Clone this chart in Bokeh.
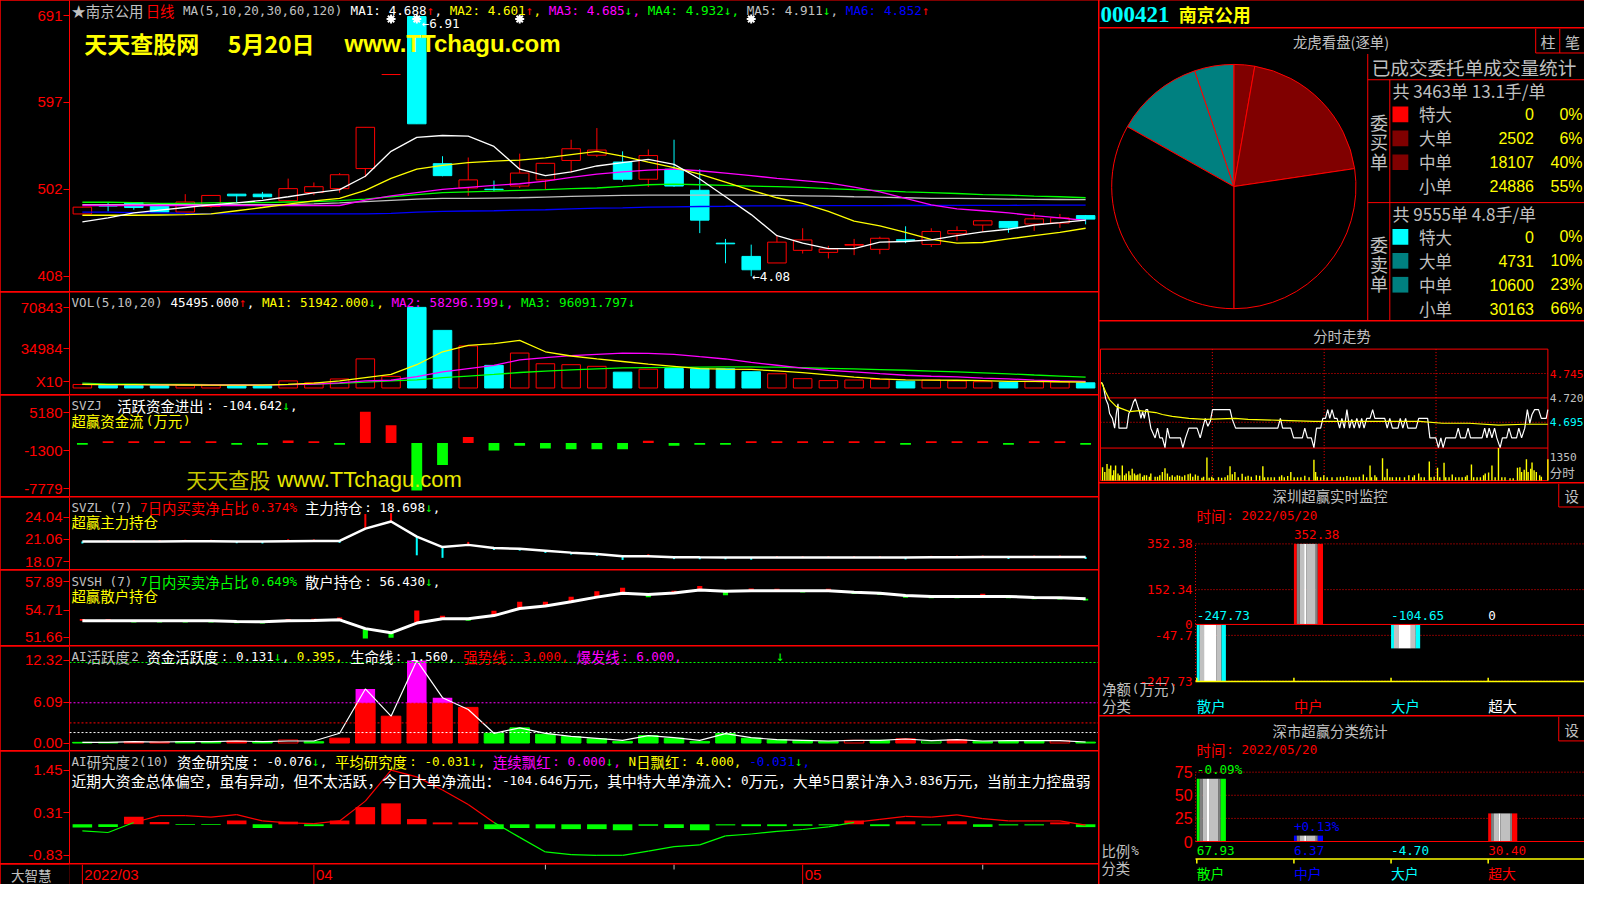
import math
from bokeh.plotting import figure
from bokeh.models import Range1d, FixedTicker, Label, ColumnDataSource, Span
from bokeh.layouts import row, column
from bokeh.embed import file_html
from bokeh.resources import INLINE

# ======================= DATA =======================
idx = list(range(40))
opens = [4.756,4.850,4.879,4.848,4.777,4.837,4.971,4.971,4.900,4.989,5.031,5.249,6.27,6.90,5.302,5.038,5.025,5.059,5.126,5.337,
         5.394,5.320,5.133,5.242,5.013,4.439,4.295,4.224,4.361,4.339,4.417,4.372,4.475,4.425,4.541,4.636,4.675,4.647,4.657,4.738]
highs = [4.830,4.879,4.879,4.848,4.971,4.957,4.971,4.995,5.140,5.098,5.200,5.697,6.27,6.91,5.383,5.369,5.119,5.411,5.306,5.562,
         5.689,5.436,5.457,5.562,5.242,4.485,4.423,4.518,4.601,4.410,4.485,4.509,4.622,4.601,4.622,4.682,4.675,4.770,4.756,4.745]
lows = [4.756,4.784,4.802,4.777,4.777,4.823,4.872,4.918,4.900,4.960,4.986,5.154,6.27,5.735,5.165,4.953,5.002,5.038,5.024,5.207,
        5.373,5.109,5.049,5.049,4.548,4.221,4.080,4.224,4.326,4.273,4.309,4.319,4.439,4.397,4.467,4.562,4.552,4.573,4.605,4.643]
closes = [4.830,4.842,4.826,4.777,4.886,4.957,4.953,4.943,5.031,5.052,5.182,5.697,6.27,5.735,5.172,5.126,5.020,5.200,5.306,5.464,
          5.450,5.133,5.390,5.059,4.689,4.432,4.150,4.450,4.474,4.375,4.424,4.492,4.470,4.566,4.576,4.682,4.605,4.703,4.714,4.700]
ma5 = [4.671,4.714,4.767,4.798,4.826,4.855,4.876,4.904,4.943,4.985,5.020,5.165,5.436,5.587,5.608,5.601,5.489,5.242,5.172,5.214,
       5.277,5.313,5.348,5.295,5.136,4.943,4.749,4.520,4.439,4.379,4.379,4.450,4.457,4.474,4.520,4.562,4.590,4.636,4.661,4.688]
ma10 = [4.742,4.742,4.742,4.745,4.749,4.756,4.791,4.826,4.862,4.897,4.925,5.013,5.143,5.242,5.284,5.313,5.330,5.341,5.365,5.401,
        5.436,5.383,5.320,5.260,5.189,5.101,5.013,4.932,4.872,4.784,4.678,4.626,4.555,4.481,4.439,4.446,4.485,4.520,4.555,4.601]
ma20 = [4.848,4.848,4.848,4.848,4.848,4.848,4.848,4.848,4.848,4.848,4.848,4.907,4.953,4.988,5.024,5.045,5.066,5.084,5.112,5.154,
        5.189,5.214,5.232,5.242,5.225,5.200,5.172,5.143,5.119,5.094,5.048,4.996,4.925,4.855,4.812,4.791,4.767,4.738,4.714,4.685]
ma30 = [4.883,4.883,4.879,4.872,4.872,4.876,4.879,4.879,4.886,4.890,4.900,4.918,4.943,4.967,4.988,4.996,5.003,5.013,5.020,5.031,
        5.038,5.055,5.073,5.080,5.073,5.066,5.059,5.052,5.045,5.031,5.020,5.010,4.996,4.988,4.978,4.967,4.960,4.950,4.943,4.932]
ma60 = [4.858,4.858,4.858,4.858,4.858,4.858,4.858,4.858,4.858,4.865,4.876,4.890,4.904,4.918,4.925,4.925,4.929,4.932,4.939,4.946,
        4.953,4.957,4.960,4.960,4.960,4.960,4.960,4.957,4.953,4.950,4.943,4.939,4.932,4.925,4.925,4.922,4.918,4.915,4.913,4.911]
ma120 = [4.777,4.777,4.770,4.767,4.763,4.760,4.756,4.756,4.756,4.756,4.756,4.756,4.763,4.777,4.784,4.788,4.791,4.798,4.802,4.812,
         4.819,4.823,4.830,4.834,4.837,4.840,4.844,4.844,4.845,4.846,4.846,4.847,4.848,4.848,4.849,4.850,4.850,4.851,4.851,4.852]
price_ticks = [4.08, 5.0233, 5.9667, 6.91]
price_tick_labels = ["408", "502", "597", "691"]
star_idx = [12, 13, 17, 26]

vol = [3100,2530,2245,2245,2530,2530,2530,2245,6230,4530,7940,25590,10220,70843,50630,36970,19890,30710,21320,20470,
       19050,13920,16480,17050,16900,16900,14300,12500,8200,6500,7000,7500,6000,7000,6200,5500,5000,5500,5400,4550]
vol_ma5 = [3100,3000,2900,2800,2650,2500,2500,2500,3100,4240,6230,9070,11920,20450,31830,37520,38940,41780,31830,28130,
           25570,23290,21010,19020,17000,16500,16300,15000,13500,11500,9600,8100,7100,6900,6800,6400,5900,5800,5500,5194]
vol_ma10 = [3100,3000,2900,2850,2800,2700,2650,2600,3000,3400,4500,6230,6800,9920,14190,17040,19890,24730,26720,28430,
            29570,30710,30430,29570,27500,25500,22500,20000,17500,15500,14200,12600,11200,10300,9700,8700,8000,7000,6300,5830]
vol_ma20 = [4240,3400,3300,3200,3100,3000,3000,3000,3100,3400,4000,5100,6230,7090,9070,10490,11920,13620,14760,15900,
            16750,17610,17890,18180,18400,18600,18500,18300,17800,17300,16800,16200,15600,14900,14100,13300,12400,11400,10500,9609]
vol_ticks = [5379, 34984, 70843]
vol_tick_labels = ["X10", "34984", "70843"]

svzj = [-300,300,300,300,300,300,-300,-300,450,300,-300,5350,3030,-8060,-3750,1050,-1270,-440,-940,-1050,
        -1050,-1050,400,-440,-300,-300,300,300,300,300,300,300,-300,300,300,300,-300,300,300,-300]
svzj_ticks = [-7779, -1300, 5180]

svzl = [20.77,20.78,20.80,20.80,20.83,20.83,20.80,20.78,20.83,20.86,20.86,22.51,23.47,21.43,20.03,20.33,19.90,19.81,19.55,19.29,
        19.11,18.81,18.81,18.68,18.66,18.65,18.64,18.63,18.62,18.62,18.62,18.63,18.64,18.66,18.68,18.70,18.70,18.70,18.70,18.698]
svzl_mark = [-0.26,0.2,0.2,0.2,0.2,0.2,-0.26,-0.26,0.26,0.2,-0.26,1.96,1.13,-2.5,-1.44,0.4,-0.26,-0.26,-0.3,-0.26,
             -0.26,-0.5,0.26,-0.26,-0.26,-0.26,-0.3,0.2,0.2,0.2,0.2,0.2,-0.26,0.2,0.2,0.2,-0.26,0.2,0.2,-0.26]
svzl_ticks = [18.07, 21.06, 24.04]

svsh = [53.51,53.51,53.51,53.51,53.51,53.51,53.44,53.40,53.51,53.55,53.62,52.64,52.17,53.26,53.73,53.73,54.09,54.88,55.17,55.64,
        56.15,56.58,56.44,56.62,56.94,56.80,56.87,56.87,56.87,56.87,56.69,56.58,56.33,56.22,56.22,56.22,56.22,56.11,56.08,55.97]
svsh_mark = [0.2,0.2,-0.2,-0.2,-0.2,-0.2,-0.2,-0.2,0.2,0.2,0.25,-1.1,-0.55,1.4,0.35,-0.2,0.55,0.75,0.45,0.55,
             0.65,0.6,-0.3,0.25,0.45,-0.45,0.25,0.2,-0.2,0.2,-0.2,-0.2,-0.25,-0.2,-0.2,0.3,-0.2,-0.2,-0.2,-0.2]
svsh_ticks = [51.66, 54.71, 57.89]

ai_act = [0.1,0.1,0.2,0.15,0.2,0.2,0.3,0.15,0.45,0.2,0.72,8.06,4.0,12.32,6.76,5.31,1.45,2.26,1.30,0.96,
          0.63,0.24,1.11,0.72,0.24,1.40,0.72,0.48,0.39,0.24,0.40,0.39,0.63,0.30,0.48,0.24,0.34,0.34,0.34,0.131]
ai_style = ["g","g","r","r","g","g","r","g","h","g","r","r","r","r","r","r","g","g","g","g",
            "g","g","g","g","g","g","g","g","g","g","h","g","r","k","r","g","g","g","h","g"]
ai_line = [0.1,0.1,0.2,0.15,0.2,0.2,0.3,0.2,0.3,0.3,1.45,8.06,4.0,12.32,6.76,5.0,1.45,2.26,1.45,1.0,
           0.7,0.4,1.1,0.8,0.4,1.4,0.8,0.5,0.4,0.3,0.4,0.4,0.6,0.35,0.5,0.3,0.35,0.35,0.35,0.15]
ai_levels = [12.0, 6.0, 3.0, 1.56]
ai_level_colors = ["#00ff00", "#ff00ff", "#ff0000", "#ffffff"]
ai_ticks = [0, 6.09, 12.32]
ai_tick_labels = ["0.00", "6.09", "12.32"]

res_bar = [-0.085,-0.07,0.2,0.06,-0.02,-0.02,0.1,-0.1,0.07,-0.05,0.1,0.46,0.56,0.14,0.05,0.05,-0.13,-0.1,-0.11,-0.13,
           -0.13,-0.16,-0.04,-0.1,-0.16,-0.03,-0.05,-0.05,-0.04,-0.03,0.1,-0.05,0.08,-0.03,0.08,-0.07,-0.03,-0.03,0.05,-0.076]
res_line = [-0.174,-0.22,0.047,0.23,0.23,0.19,0.26,0.09,0.04,0.02,0.09,0.62,1.45,1.27,0.92,0.53,0.05,-0.35,-0.74,-0.81,
            -0.83,-0.83,-0.72,-0.60,-0.55,-0.31,-0.26,-0.19,-0.14,-0.07,0.05,0.13,0.21,0.19,0.25,0.15,0.09,0.09,0.09,-0.024]
res_ticks = [-0.83, 0.31, 1.45]

date_idx = [0, 9, 28]
date_labels = ["2022/03", "04", "05"]
week_idx = [18, 23, 35]

buy_names = ["特大", "大单", "中单", "小单"]
buy_vals = [0, 2502, 18107, 24886]
buy_pct = ["0%", "6%", "40%", "55%"]
buy_colors = ["#ff0000", "#800000", "#800000", "black"]
sell_vals = [0, 4731, 10600, 30163]
sell_pct = ["0%", "10%", "23%", "66%"]
sell_colors = ["#00ffff", "#008080", "#008080", "black"]
buy_head = "共 3463单 13.1手/单"
sell_head = "共 9555单 4.8手/单"

fs_pts = [(0.5,4.736),(1.4,4.733),(2.8,4.719),(4.1,4.713),(4.9,4.704),(6.4,4.699),(7.6,4.689),(8.5,4.704),(9.4,4.714),(9.9,4.689),
          (14.1,4.689),(15.2,4.704),(16.4,4.708),(17.7,4.716),(18.7,4.719),(20.0,4.711),(20.9,4.706),(21.7,4.699),(22.6,4.706),(23.5,4.699),
          (24.4,4.708),(25.3,4.708),(26.2,4.698),(27.0,4.689),(29.3,4.679),(30.6,4.689),(31.8,4.679),(33.2,4.679),(34.6,4.669),(35.9,4.689),
          (37.1,4.679),(42.9,4.679),(44.2,4.669),(45.6,4.679),(47.4,4.689),(51.8,4.689),(53.5,4.679),(54.8,4.689),(56.2,4.699),(57.6,4.691),
          (58.9,4.696),(60.1,4.708),(69.5,4.708),(70.7,4.698),(72.5,4.689),(95.1,4.689),(96.5,4.699),(97.7,4.689),(102.1,4.689),(103.6,4.679),
          (108.3,4.679),(109.6,4.689),(111.0,4.679),(113.1,4.679),(114.5,4.669),(115.9,4.689),(118.1,4.689),(119.3,4.699),(120.7,4.699),(121.9,4.708),
          (123.0,4.699),(124.2,4.708),(125.5,4.699),(126.9,4.699),(128.3,4.689),(129.5,4.699),(130.8,4.689),(132.2,4.708),(133.6,4.689),(134.8,4.698),
          (136.1,4.689),(137.5,4.699),(138.9,4.689),(140.1,4.699),(141.4,4.689),(142.8,4.699),(144.6,4.699),(146.0,4.708),(147.2,4.699),(152.5,4.699),
          (153.8,4.689),(155.2,4.699),(156.6,4.689),(159.6,4.689),(160.8,4.699),(162.2,4.689),(163.7,4.699),(164.9,4.689),(169.3,4.689),(170.7,4.699),
          (175.5,4.699),(176.7,4.679),(179.9,4.679),(181.3,4.669),(182.6,4.679),(183.8,4.669),(185.2,4.679),(190.5,4.679),(191.9,4.689),(193.2,4.679),
          (195.8,4.679),(197.2,4.689),(198.5,4.679),(204.7,4.679),(206.1,4.689),(207.3,4.679),(208.5,4.689),(210.0,4.679),(211.4,4.689),(212.6,4.679),
          (214.4,4.669),(215.6,4.679),(217.9,4.679),(219.1,4.689),(220.6,4.679),(223.2,4.679),(224.4,4.689),(225.9,4.679),(227.6,4.689),(229.0,4.708),
          (230.3,4.694),(231.5,4.703),(232.9,4.708),(235.0,4.708),(236.5,4.699),(239.1,4.699),(240.0,4.708)]
fs_avg_pts = [(0.5,4.736),(2.8,4.726),(4.9,4.718),(8.5,4.711),(15.6,4.706),(20.9,4.707),(29.7,4.705),(33.2,4.703),(38.5,4.701),
              (47.4,4.699),(56.2,4.698),(72.1,4.699),(79.2,4.698),(96.8,4.697),(114.5,4.696),(171.1,4.696),(183.4,4.694),
              (197.6,4.694),(213.5,4.692),(227.6,4.693),(240.0,4.693)]
fs_vol_pts = [(1.1,556),(2.3,357),(3.5,688),(4.6,490),(5.5,622),(6.4,225),(7.1,424),(8.1,622),(9.4,291),(10.3,225),(11.7,622),(12.9,225),
              (13.8,291),(15.2,384),(15.9,225),(17.0,490),(18.2,291),(19.1,225),(20.0,252),(21.2,291),(22.6,159),(23.5,225),(24.7,225),
              (26.2,159),(27.0,291),(29.3,159),(30.6,159),(31.8,225),(33.2,357),(34.6,516),(35.9,291),(37.1,159),(38.5,225),(39.9,159),
              (41.2,225),(42.4,199),(43.8,159),(45.2,225),(47.0,265),(48.2,291),(49.5,159),(50.9,252),(52.3,199),(54.4,119),(55.3,159),
              (57.1,953),(58.3,119),(59.7,159),(60.6,93),(63.3,132),(65.0,119),(66.8,132),(68.2,225),(69.5,596),(70.7,265),(72.1,357),
              (73.9,132),(76.0,278),(77.8,159),(79.2,199),(80.9,159),(83.6,225),(85.4,199),(87.1,596),(88.0,132),(89.8,132),(91.5,132),
              (93.3,132),(96.0,159),(97.2,225),(98.6,132),(100.4,185),(102.1,357),(103.9,132),(105.7,132),(107.5,132),(109.6,199),
              (111.9,132),(114.5,860),(115.4,357),(116.3,159),(118.1,132),(119.8,225),(121.6,132),(124.2,132),(126.9,132),(128.7,159),
              (130.4,132),(132.2,185),(134.0,132),(135.7,132),(137.1,132),(138.9,159),(141.0,252),(142.8,132),(144.6,622),(145.4,132),
              (147.2,225),(148.1,132),(151.3,927),(152.5,132),(153.8,490),(155.2,132),(156.6,132),(158.7,132),(160.5,132),(163.1,132),
              (165.4,225),(167.5,132),(168.4,225),(170.7,291),(172.0,132),(173.7,132),(176.4,794),(177.3,132),(179.0,159),(180.8,530),
              (182.0,132),(184.3,741),(185.2,132),(187.0,132),(188.7,252),(190.5,132),(192.3,132),(194.0,132),(195.8,159),(196.7,225),
              (199.0,662),(200.2,132),(202.0,132),(203.8,132),(205.5,225),(206.4,291),(208.2,331),(210.0,622),(211.7,132),(213.5,1350),
              (215.3,132),(217.0,132),(219.7,93),(221.4,93),(223.7,530),(225.0,556),(225.9,357),(227.3,450),(228.5,887),(229.4,357),
              (230.8,490),(231.5,755),(232.6,424),(233.8,357),(235.6,225),(236.5,159),(240.0,887)]
fs_prev_close = 4.720
fs_levels = [4.745, 4.720, 4.695]
fs_level_labels = ["4.745", "4.720", "4.695"]
fs_vol_max = 1350
fs_hours = [60, 120, 180]

cats = ["散户", "中户", "大户", "超大"]
sz_vals = [-247.73, 352.38, -104.65, 0]
sz_val_labels = ["-247.73", "352.38", "-104.65", "0"]
sz_colors = ["#00ffff", "#ff0000", "#00ffff", "#ffffff"]
sz_ticks = [352.38, 152.34, 0, -47.7, -247.73]
sz_tick_labels = ["352.38", "152.34", "0", "-47.7", "-247.73"]
ss_vals = [67.93, 6.37, -4.70, 30.40]
ss_val_labels = ["67.93", "6.37", "-4.70", "30.40"]
ss_chg = ["-0.09%", "+0.13%", "", ""]
ss_colors = ["#00ff00", "#0000ff", "#00ffff", "#ff0000"]
ss_ticks = [75, 50, 25, 0]

# ======================= STYLE / LAYOUT =======================
MONO = "DejaVu Sans Mono"; CJKF = "Noto Sans CJK SC"; SANS = "Liberation Sans"; SERIF = "Liberation Serif"
GRAY = "#c0c0c0"; WHITE = "#ffffff"; YEL = "#ffff00"; RED = "#ff0000"; MAG = "#ff00ff"
GRN = "#00ff00"; BLU = "#0000ff"; CYAN = "#00ffff"
ASC_ADV, CJK_ADV = 7.7, 15.0
A_SZ, C_SZ = 12.6, 14.4

LW, RW, AXW = 1098, 485, 69
LH = [291, 102, 101, 72, 75, 104, 112, 20]
RH = [27, 292, 161, 232, 168]
LY = [0, 299, 404, 508, 582, 659, 766, 880, 900]
RY = [0, 28, 326, 491, 728, 900]


def mkfig(w, h, xr, yr, pxx, pxy, left=0, axis=False):
    p = figure(width=w, height=h, x_range=xr, y_range=yr, output_backend="svg", toolbar_location=None,
               title=None, x_axis_location=None, y_axis_location=("left" if axis else None),
               min_border_left=left, min_border_right=0, min_border_top=0, min_border_bottom=0,
               background_fill_color="black", border_fill_color="black", outline_line_color=None)
    p.extra_x_ranges = {"px": Range1d(*pxx)}
    p.extra_y_ranges = {"px": Range1d(*pxy)}
    p.grid.visible = False
    return p


def style_axis(p, ticks, labels=None):
    ax = p.yaxis[0]
    ax.ticker = FixedTicker(ticks=ticks)
    if labels:
        ax.major_label_overrides = {t: l for t, l in zip(ticks, labels)}
    ax.axis_line_color = RED
    ax.major_tick_line_color = RED
    ax.major_tick_out = 6
    ax.major_tick_in = 0
    ax.minor_tick_line_color = None
    ax.major_label_text_color = RED
    ax.major_label_text_font = SANS
    ax.major_label_text_font_size = "15px"
    ax.major_label_standoff = 1


def lab(p, x, y, t, col, size, font=MONO, align="left", base="middle", style="normal",
        xr="px", yr="px", xo=0, yo=0, **kw):
    p.add_layout(Label(x=x, y=y, x_range_name=xr, y_range_name=yr, text=t, text_color=col,
                       text_font_size=f"{size}px", text_font=font, text_align=align,
                       text_baseline=base, text_font_style=style, x_offset=xo, y_offset=yo, **kw))


def half(ch):
    return ord(ch) < 128 or ch in "↑↓←"


def segtext(p, x, y, segs, asz=A_SZ, csz=C_SZ):
    for txt, col in segs:
        runs = []
        for ch in txt:
            k = "s" if ch == " " else ("a" if half(ch) else "c")
            if runs and runs[-1][0] == k:
                runs[-1][1] += ch
            else:
                runs.append([k, ch])
        for k, r in runs:
            if k == "s":
                x += ASC_ADV * len(r)
            elif k == "a":
                lab(p, x, y, r, col, asz, MONO)
                x += ASC_ADV * len(r)
            else:
                lab(p, x, y, r, col, csz, CJKF)
                x += CJK_ADV * len(r)
    return x


XR = Range1d(-0.5, 39.5)
up = [c >= o for o, c in zip(opens, closes)]

# ---------------- price panel ----------------
p1 = mkfig(LW, LH[0], XR, Range1d(3.9141, 7.0738), (70, 1110), (LY[1], LY[0]), AXW, True)
style_axis(p1, price_ticks, price_tick_labels)
csrc = ColumnDataSource(dict(x=idx, l=lows, h=highs,
                             bt=[min(a, b) for a, b in zip(opens, closes)],
                             tp=[max(a, b) for a, b in zip(opens, closes)],
                             col=[RED if u else CYAN for u in up],
                             fill=["black" if u else CYAN for u in up]))
p1.segment(x0="x", y0="l", x1="x", y1="h", line_color="col", line_width=1, source=csrc)
p1.vbar(x="x", bottom="bt", top="tp", width=0.72, fill_color="fill", line_color="col", line_width=1, source=csrc)
for ser, col in [(ma120, BLU), (ma60, GRAY), (ma30, GRN), (ma20, MAG), (ma10, YEL), (ma5, WHITE)]:
    p1.line(idx, ser, line_color=col, line_width=1.3)
p1.scatter(x=star_idx, y=19, y_range_name="px", marker="asterisk", size=9, line_color=WHITE, line_width=2)
p1.scatter(x=star_idx, y=19, y_range_name="px", marker="circle", size=4, fill_color=WHITE, line_color=WHITE)
lab(p1, 13, highs[13], "←6.91", WHITE, A_SZ, MONO, xr="default", yr="default", xo=5, yo=-8)
lab(p1, 26, lows[26], "←4.08", WHITE, A_SZ, MONO, xr="default", yr="default", xo=1, yo=0)
segtext(p1, 72, 10.5, [("★南京公用", GRAY), ("日线", RED), (" MA(5,10,20,30,60,120) ", GRAY),
                       ("MA1: 4.688", WHITE), ("↑", RED), (", ", WHITE), ("MA2: 4.601", YEL), ("↑", RED), (", ", YEL),
                       ("MA3: 4.685", MAG), ("↓", GRN), (", ", MAG), ("MA4: 4.932", GRN), ("↓", GRN), (", ", GRN),
                       ("MA5: 4.911", GRAY), ("↓", GRN), (", ", GRAY), ("MA6: 4.852", BLU), ("↑", RED)])
lab(p1, 85, 44, "天天查股网", YEL, 23, CJKF, style="bold")
lab(p1, 230, 44, "5月20日", YEL, 23, CJKF, style="bold")
lab(p1, 348, 44, "www.TTchagu.com", YEL, 24, SANS, style="bold")

# ---------------- volume panel ----------------
p2 = mkfig(LW, LH[1], XR, Range1d(-5720, 83929), (70, 1110), (LY[2], LY[1]), AXW, True)
style_axis(p2, vol_ticks, vol_tick_labels)
vsrc = ColumnDataSource(dict(x=idx, v=vol, col=[RED if u else CYAN for u in up],
                             fill=["black" if u else CYAN for u in up]))
p2.vbar(x="x", bottom=0, top="v", width=0.72, fill_color="fill", line_color="col", line_width=1, source=vsrc)
for ser, col in [(vol_ma20, GRN), (vol_ma10, MAG), (vol_ma5, YEL)]:
    p2.line(idx, ser, line_color=col, line_width=1.3)
segtext(p2, 72, 309.5, [("VOL(5,10,20) ", GRAY), ("45495.000", WHITE), ("↑", RED), (", ", WHITE),
                        ("MA1: 51942.000", YEL), ("↓", GRN), (", ", YEL), ("MA2: 58296.199", MAG), ("↓", GRN),
                        (", ", MAG), ("MA3: 96091.797", GRN), ("↓", GRN)])

# ---------------- SVZJ panel ----------------
p3 = mkfig(LW, LH[2], XR, Range1d(-9103, 8110), (70, 1110), (LY[3], LY[2]), AXW, True)
style_axis(p3, svzj_ticks, [str(t) for t in svzj_ticks])
p3.vbar(x=idx, bottom=0, top=svzj, width=0.42, fill_color=[RED if v > 0 else GRN for v in svzj], line_color=None)
segtext(p3, 72, 414.5, [("SVZJ  ", GRAY), ("活跃资金进出: -104.642", WHITE), ("↓", GRN), (",", WHITE)])
segtext(p3, 72, 430, [("超赢资金流(万元)", YEL)])
lab(p3, 188, 490, "天天查股", "#c8c800", 21, CJKF)
lab(p3, 280, 490, "www.TTchagu.com", "#e8e800", 22, SANS)

# ---------------- SVZL panel ----------------
p4 = mkfig(LW, LH[3], XR, Range1d(17.025, 26.69), (70, 1110), (LY[4], LY[3]), AXW, True)
style_axis(p4, svzl_ticks, ["18.07", "21.06", "24.04"])
p4.segment(x0=idx, y0=svzl, x1=idx, y1=[a + b for a, b in zip(svzl, svzl_mark)],
           line_color=[RED if m > 0 else CYAN for m in svzl_mark], line_width=2)
p4.line(idx, svzl, line_color=WHITE, line_width=2.5)
segtext(p4, 72, 518.5, [("SVZL (7) ", GRAY), ("7日内买卖净占比0.374%", RED), (" 主力持仓: 18.698", WHITE),
                        ("↓", GRN), (",", WHITE)])
segtext(p4, 72, 533, [("超赢主力持仓", YEL)])

# ---------------- SVSH panel ----------------
p5 = mkfig(LW, LH[4], XR, Range1d(50.759, 59.116), (70, 1110), (LY[5], LY[4]), AXW, True)
style_axis(p5, svsh_ticks, ["51.66", "54.71", "57.89"])
p5.vbar(x=idx, bottom=svsh, top=[a + b for a, b in zip(svsh, svsh_mark)], width=0.2,
        fill_color=[RED if m > 0 else GRN for m in svsh_mark], line_color=None)
p5.line(idx, svsh, line_color=WHITE, line_width=3)
segtext(p5, 72, 593, [("SVSH (7) ", GRAY), ("7日内买卖净占比0.649%", GRN), (" 散户持仓: 56.430", WHITE),
                      ("↓", GRN), (",", WHITE)])
segtext(p5, 72, 607.5, [("超赢散户持仓", YEL)])

# ---------------- AI活跃度 panel ----------------
p6 = mkfig(LW, LH[5], XR, Range1d(-1.116, 14.39), (70, 1110), (LY[6], LY[5]), AXW, True)
style_axis(p6, ai_ticks, ai_tick_labels)
for lv, lc in zip(ai_levels, ai_level_colors):
    p6.add_layout(Span(location=lv, dimension="width", line_color=lc, line_dash="2 2", line_width=1))
fillc = {"g": GRN, "r": RED, "h": "black", "k": "black"}
linec = {"g": GRN, "r": RED, "h": RED, "k": GRN}
p6.vbar(x=idx, bottom=0, top=[min(v, 6.0) for v in ai_act], width=0.76,
        fill_color=[fillc[s] for s in ai_style], line_color=[linec[s] for s in ai_style])
hi = [i for i in idx if ai_act[i] > 6.0]
p6.vbar(x=hi, bottom=6.0, top=[ai_act[i] for i in hi], width=0.76, fill_color=MAG, line_color=None)
p6.line(idx, ai_line, line_color=WHITE, line_width=1.2)
segtext(p6, 72, 669.5, [("AI活跃度2 ", GRAY), ("资金活跃度: 0.131", WHITE), ("↓", GRN), (", ", WHITE),
                        ("0.395", YEL), (", ", YEL), ("生命线: 1.560, ", WHITE), ("强势线: 3.000, ", RED),
                        ("爆发线: 6.000,", MAG)])
lab(p6, 788, 669, "↓", GRN, 14, MONO, align="center")

# ---------------- AI研究度 panel ----------------
p7 = mkfig(LW, LH[6], XR, Range1d(-1.050, 1.949), (70, 1110), (LY[7], LY[6]), AXW, True)
style_axis(p7, res_ticks, ["-0.83", "0.31", "1.45"])
p7.vbar(x=idx, bottom=0, top=res_bar, width=0.76, fill_color=[RED if v > 0 else GRN for v in res_bar], line_color=None)
p7.segment(x0=idx[:-1], y0=res_line[:-1], x1=idx[1:], y1=res_line[1:],
           line_color=[RED if (a + b) > 0 else GRN for a, b in zip(res_line[:-1], res_line[1:])], line_width=1.2)
segtext(p7, 72, 776.5, [("AI研究度2(10) ", GRAY), ("资金研究度: -0.076", WHITE), ("↓", GRN), (", ", WHITE),
                        ("平均研究度: -0.031", YEL), ("↓", GRN), (", ", YEL), ("连续飘红: 0.000", MAG), ("↓", GRN),
                        (", ", MAG), ("N日飘红: 4.000, ", YEL), ("-0.031", BLU), ("↓", GRN), (",", BLU)])
segtext(p7, 72, 796, [("近期大资金总体偏空，虽有异动，但不太活跃，今日大单净流出：-104.646万元，其中特大单净流入：0万元，"
                       "大单5日累计净入3.836万元，当前主力控盘弱", WHITE)], csz=14.8)

# ---------------- date bar ----------------
p8 = mkfig(LW, LH[7], XR, Range1d(0, 1), (70, 1110), (LY[8], LY[7]), AXW, True)
ax8 = p8.yaxis[0]
ax8.ticker = FixedTicker(ticks=[0.5])
ax8.major_label_overrides = {0.5: "大智慧"}
ax8.axis_line_color = None
ax8.major_tick_line_color = None
ax8.minor_tick_line_color = None
ax8.major_label_text_color = GRAY
ax8.major_label_text_font = CJKF
ax8.major_label_text_font_size = "13.5px"
ax8.major_label_standoff = 12
p8.segment(x0=date_idx, y0=880, x1=date_idx, y1=900, y_range_name="px", line_color=RED, line_width=1)
p8.segment(x0=week_idx, y0=880, x1=week_idx, y1=885, y_range_name="px", line_color=GRAY, line_width=1)
for d, t in zip(date_idx, date_labels):
    lab(p8, d, 890, t, RED, 15, SANS, xr="default", xo=2)

# ---------------- right: header ----------------
r0 = mkfig(RW, RH[0], Range1d(0, 1), Range1d(0, 1), (1110, 1600), (RY[1], RY[0]))
lab(r0, 1111, 14, "000421", CYAN, 23, SERIF, style="bold")
lab(r0, 1190, 14, "南京公用", YEL, 18, CJKF, style="bold")

# ---------------- right: 龙虎看盘 ----------------
r1 = mkfig(RW, RH[1], Range1d(0, 490), Range1d(0, 298), (1110, 1600), (RY[2], RY[1]))
starts, ends, wcols = [], [], []
tot = sum(buy_vals); acc = 0.0
for v, c in zip(buy_vals, buy_colors):
    a0 = acc; acc += v / tot * math.pi
    if v > 0:
        starts.append(math.pi / 2 - acc); ends.append(math.pi / 2 - a0); wcols.append(c)
tot = sum(sell_vals); acc = 0.0
for v, c in zip(sell_vals, sell_colors):
    a0 = acc; acc += v / tot * math.pi
    if v > 0:
        starts.append(math.pi / 2 + a0); ends.append(math.pi / 2 + acc); wcols.append(c)
r1.wedge(x=135.7, y=136.7, radius=123.4, start_angle=starts, end_angle=ends, fill_color=wcols,
         line_color=RED, line_width=1)
seg_kw = dict(x_range_name="px", y_range_name="px", line_color=RED, line_width=1)
r1.segment(x0=[1381, 1403.3, 1381, 1381, 1550.7, 1575, 1550.7], y0=[54, 80.3, 80.3, 205.7, 28, 28, 53],
           x1=[1381, 1403.3, 1600, 1600, 1550.7, 1575, 1600], y1=[326, 326, 80.3, 205.7, 53, 53, 53], **seg_kw)
lab(r1, 1354, 41.5, "龙虎看盘(逐单)", GRAY, C_SZ, CJKF, align="center")
lab(r1, 1563, 41, "柱", GRAY, 15, CJKF, align="center")
lab(r1, 1588, 41, "笔", GRAY, 15, CJKF, align="center")
lab(r1, 1385, 66.5, "已成交委托单成交量统计", GRAY, 18.6, CJKF)
for i, ch in enumerate("委买单"):
    lab(r1, 1392.5, 123 + 20 * i, ch, GRAY, 18, CJKF, align="center")
for i, ch in enumerate("委卖单"):
    lab(r1, 1392.5, 248 + 20 * i, ch, GRAY, 18, CJKF, align="center")
for head, y0, vals, pcts, cols in [(buy_head, 91.7, buy_vals, buy_pct, buy_colors),
                                   (sell_head, 216.7, sell_vals, sell_pct, sell_colors)]:
    lab(r1, 1406, y0, head, GRAY, 17, CJKF)
    ys = [y0 + 24.0 + 24.4 * k for k in range(4)]
    sq = [k for k in range(4) if cols[k] != "black"]
    r1.rect(x=1414, y=[ys[k] for k in sq], width=16, height=16, x_range_name="px", y_range_name="px",
            fill_color=[cols[k] for k in sq], line_color=None)
    for k in range(4):
        lab(r1, 1432.7, ys[k], buy_names[k], GRAY, 16.5, CJKF)
        lab(r1, 1549, ys[k], str(vals[k]), YEL, 16, SANS, align="right")
        lab(r1, 1598, ys[k], pcts[k], YEL, 16, SANS, align="right")

# ---------------- right: 分时走势 ----------------
r2 = mkfig(RW, RH[2], Range1d(-0.531, 259.65), Range1d(4.6333, 4.7983), (1110, 1600), (RY[3], RY[2]))
r2.extra_y_ranges["vol"] = Range1d(-81, 6608)
r2.segment(x0=[1111, 1111, 1111, 1111, 1563], y0=[354.3, 455.7, 489, 354.3, 354.3],
           x1=[1563, 1563, 1563, 1111, 1563], y1=[354.3, 455.7, 489, 489, 489], **seg_kw)
r2.segment(x0=fs_hours, y0=354.3, x1=fs_hours, y1=489, y_range_name="px", line_color=RED, line_dash="1 2")
r2.segment(x0=0, x1=240, y0=[fs_levels[0], fs_levels[2]], y1=[fs_levels[0], fs_levels[2]],
           line_color=RED, line_dash="1 2")
r2.segment(x0=0, x1=240, y0=fs_prev_close, y1=fs_prev_close, line_color=RED, line_width=1)
vm = [a for a, b in fs_vol_pts]; vv = [b for a, b in fs_vol_pts]
r2.segment(x0=vm, y0=0, x1=vm, y1=vv, y_range_name="vol", line_color=YEL, line_width=1.4)
r2.line([a for a, b in fs_pts], [b for a, b in fs_pts], line_color=WHITE, line_width=1.2)
r2.line([a for a, b in fs_avg_pts], [b for a, b in fs_avg_pts], line_color=YEL, line_width=1.2)
lab(r2, 1355, 340, "分时走势", GRAY, C_SZ, CJKF, align="center")
for lv, lt, lc in zip(fs_levels, fs_level_labels, [RED, GRAY, CYAN]):
    lab(r2, 1565, lv, lt, lc, 11.2, MONO, yr="default")
lab(r2, 1565, 465, str(fs_vol_max), GRAY, 11.2, MONO)
lab(r2, 1565, 480.5, "分时", GRAY, 12.5, CJKF)

# ---------------- right: bar panels ----------------
BW = 0.2996
POS = [(0.0, 0.1, None), (0.1, 0.2, "#808080"), (0.2, 0.35, "#c0c0c0"), (0.35, 0.42, "#ffffff"),
       (0.42, 0.75, "#c0c0c0"), (0.75, 0.82, "#808080"), (0.82, 1.0, None)]
NEG = [(0.0, 0.1, None), (0.1, 0.25, "#c0c0c0"), (0.25, 0.68, "#ffffff"), (0.68, 0.85, "#c0c0c0"), (0.85, 1.0, None)]


def cylinders(p, vals, edges, skip_negative=False):
    for i, (v, e) in enumerate(zip(vals, edges)):
        if v == 0 or (skip_negative and v < 0):
            continue
        for a, b, c in (POS if v > 0 else NEG):
            p.vbar(x=[i - BW / 2 + (a + b) / 2 * BW], width=(b - a) * BW, bottom=0, top=v,
                   fill_color=(c if c else e), line_color=None)


r3 = mkfig(RW, RH[3], Range1d(-1.1515, 3.8418), Range1d(-398.1, 616.4), (1110, 1600), (RY[4], RY[3]))
r4 = mkfig(RW, RH[4], Range1d(-1.1515, 3.8418), Range1d(-46.5, 135.2), (1110, 1600), (RY[5], RY[4]))
lefts = [i - BW / 2 for i in range(4)]

# 深圳超赢实时监控
lab(r3, 1343, 503.5, "深圳超赢实时监控", GRAY, C_SZ, CJKF, align="center")
r3.segment(x0=[1574, 1574], y0=[491, 515], x1=[1574, 1600], y1=[515, 515], **seg_kw)
lab(r3, 1587, 503.5, "设", GRAY, C_SZ, CJKF, align="center")
segtext(r3, 1208, 523.3, [("时间: 2022/05/20", RED)])
for t, tl in zip(sz_ticks, sz_tick_labels):
    lab(r3, 1204, t, tl, RED, A_SZ, MONO, align="right", yr="default")
dots = [t for t in sz_ticks if t != 0]
r3.segment(x0=1207, x1=1600, y0=dots, y1=dots, x_range_name="px", line_color=RED, line_dash="1 2")
r3.segment(x0=1207, x1=1207, y0=min(sz_ticks), y1=max(sz_ticks), x_range_name="px", line_color=RED, line_dash="1 2")
cylinders(r3, sz_vals, sz_colors)
r3.segment(x0=1207, x1=1600, y0=0, y1=0, x_range_name="px", line_color=RED, line_width=1)
r3.segment(x0=1207, x1=1600, y0=693.3, y1=693.3, x_range_name="px", y_range_name="px", line_color=YEL, line_width=1.5)
r3.segment(x0=lefts, x1=lefts, y0=689.5, y1=693.3, y_range_name="px", line_color=YEL, line_width=1.5)
for i in range(4):
    lab(r3, lefts[i], max(sz_vals[i], 0), sz_val_labels[i], sz_colors[i], A_SZ, MONO, xr="default", yr="default", yo=9)
    lab(r3, lefts[i], 717.5, cats[i], sz_colors[i], C_SZ, CJKF, xr="default")
segtext(r3, 1112.7, 700.7, [("净额(万元)", GRAY)])
segtext(r3, 1112.7, 717.5, [("分类", GRAY)])

# 深市超赢分类统计
lab(r4, 1343, 742, "深市超赢分类统计", GRAY, C_SZ, CJKF, align="center")
r4.segment(x0=[1574, 1574], y0=[728, 753], x1=[1574, 1600], y1=[753, 753], **seg_kw)
lab(r4, 1587, 741, "设", GRAY, C_SZ, CJKF, align="center")
segtext(r4, 1208, 761.7, [("时间: 2022/05/20", RED)])
for t in ss_ticks:
    lab(r4, 1204, t, str(t), RED, 16, SANS, align="right", yr="default")
dots = [t for t in ss_ticks if t != 0]
r4.segment(x0=1207, x1=1600, y0=dots, y1=dots, x_range_name="px", line_color=RED, line_dash="1 2")
r4.segment(x0=1207, x1=1207, y0=0, y1=max(ss_ticks), x_range_name="px", line_color=RED, line_dash="1 2")
cylinders(r4, ss_vals, ss_colors, skip_negative=True)
r4.segment(x0=1207, x1=1600, y0=0, y1=0, x_range_name="px", line_color=RED, line_width=1)
r4.segment(x0=1207, x1=1600, y0=874, y1=874, x_range_name="px", y_range_name="px", line_color=YEL, line_width=1.5)
r4.segment(x0=lefts, x1=lefts, y0=874, y1=878.5, y_range_name="px", line_color=YEL, line_width=1.5)
for i in range(4):
    if ss_chg[i]:
        lab(r4, lefts[i], max(ss_vals[i], 0), ss_chg[i], ss_colors[i], A_SZ, MONO, xr="default", yr="default", yo=9)
    lab(r4, lefts[i], 865, ss_val_labels[i], ss_colors[i], A_SZ, MONO, xr="default")
    lab(r4, lefts[i], 888.5, cats[i], ss_colors[i], 13.8, CJKF, xr="default")
segtext(r4, 1112, 865, [("比例%", GRAY)])
segtext(r4, 1112, 883, [("分类", GRAY)])

# ---------------- assemble ----------------
bg = {"background-color": "#ff0000"}
left = column(p1, p2, p3, p4, p5, p6, p7, p8, spacing=1, styles=bg)
right = column(r0, r1, r2, r3, r4, spacing=1, styles=bg)
root = row(left, right, spacing=1, styles=bg)

open("out.html", "w", encoding="utf-8").write(file_html(root, INLINE, "南京公用"))
